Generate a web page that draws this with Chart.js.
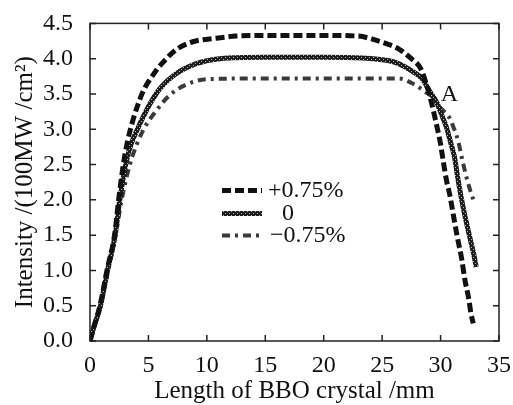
<!DOCTYPE html>
<html>
<head>
<meta charset="utf-8">
<script src="https://cdn.jsdelivr.net/npm/chart.js@4.4.1/dist/chart.umd.min.js"></script>
<style>
    html, body { margin: 0; padding: 0; background: #fff; }
    #wrap { width: 513px; height: 405px; position: relative; }
</style>
</head>
<body>
<div id="wrap"><canvas id="IntensityChart"></canvas></div>
<script>
// data
const plusX = [0, 0.3, 0.85, 1.45, 2.1, 2.45, 2.85, 3.2, 3.66, 4.5, 5.4, 6.2, 7.4, 8.8, 10.8, 12.5, 15, 20, 23, 24.1, 25.6, 26.4, 27.5, 28.3, 28.8, 29.2, 29.7, 30.0, 30.2, 30.5, 30.8, 31.1, 31.4, 31.8, 32.1, 32.4, 32.6, 32.8];
const plusY = [0, 0.18, 0.5, 1.0, 1.5, 2.0, 2.5, 2.82, 3.12, 3.52, 3.77, 3.94, 4.13, 4.24, 4.29, 4.32, 4.33, 4.33, 4.32, 4.28, 4.2, 4.14, 4.0, 3.86, 3.63, 3.39, 3.03, 2.79, 2.58, 2.28, 2.06, 1.78, 1.5, 1.17, 0.85, 0.61, 0.39, 0.25];

const zeroX = [0, 0.3, 0.9, 1.5, 2.15, 2.55, 3.05, 3.5, 4.0, 5.1, 6.0, 7.4, 9.1, 11.1, 15, 20, 23.3, 25.6, 26.4, 27.5, 28.4, 29.1, 29.7, 30.1, 30.5, 30.9, 31.2, 31.5, 31.9, 32.4, 32.8, 33.05];
const zeroY = [0, 0.18, 0.5, 1.0, 1.5, 2.0, 2.5, 2.78, 2.98, 3.35, 3.58, 3.79, 3.93, 4.0, 4.02, 4.02, 4.01, 3.97, 3.93, 3.83, 3.72, 3.53, 3.37, 3.2, 3.03, 2.79, 2.6, 2.28, 1.92, 1.54, 1.26, 1.05];

const minusX = [0, 0.3, 0.9, 1.55, 2.2, 2.65, 3.1, 3.6, 4.5, 5.7, 6.8, 8.2, 10, 15, 20, 25, 26.4, 27.8, 28.7, 29.4, 30.0, 30.7, 31.1, 31.5, 31.8, 32.2, 32.6, 32.9];
const minusY = [0, 0.18, 0.5, 1.0, 1.5, 1.95, 2.3, 2.6, 2.97, 3.27, 3.48, 3.63, 3.71, 3.72, 3.72, 3.72, 3.72, 3.63, 3.53, 3.44, 3.3, 3.18, 3.03, 2.84, 2.61, 2.33, 2.1, 1.96];

const seriesLabels = ["+0.75%", "0", "\u22120.75%"];
const xTicks = [0, 5, 10, 15, 20, 25, 30, 35];
const yTicks = [0, 0.5, 1.0, 1.5, 2.0, 2.5, 3.0, 3.5, 4.0, 4.5];

const serif = "'Liberation Serif', 'DejaVu Serif', serif";

function toPoints(xs, ys) {
    return xs.map((x, i) => ({ x: x, y: ys[i] }));
}

// hatched look for the middle curve
function hatchPattern() {
    const c = document.createElement("canvas");
    c.width = 4;
    c.height = 4;
    const g = c.getContext("2d");
    g.fillStyle = "#1c1c1c";
    g.fillRect(0, 0, 4, 4);
    g.fillStyle = "#b8b8b8";
    g.fillRect(1, 1, 1, 1);
    g.fillRect(3, 3, 1, 1);
    return g.createPattern(c, "repeat");
}

// box around the plot with inward ticks on all four sides, plus legend and label "A"
const framePlugin = {
    id: "frame",
    afterDatasetsDraw(chart) {
        const { ctx, chartArea: a, scales } = chart;
        ctx.save();
        ctx.strokeStyle = "#222";
        ctx.lineWidth = 1.5;
        ctx.strokeRect(a.left, a.top, a.right - a.left, a.bottom - a.top);
        ctx.beginPath();
        xTicks.forEach(v => {
            const px = scales.x.getPixelForValue(v);
            ctx.moveTo(px, a.bottom); ctx.lineTo(px, a.bottom - 6);
            ctx.moveTo(px, a.top); ctx.lineTo(px, a.top + 6);
        });
        yTicks.forEach(v => {
            const py = scales.y.getPixelForValue(v);
            ctx.moveTo(a.left, py); ctx.lineTo(a.left + 6, py);
            ctx.moveTo(a.right, py); ctx.lineTo(a.right - 6, py);
        });
        ctx.stroke();

        // legend
        const lx = a.left + 132;
        const textX = [lx + 46, lx + 60, lx + 48];
        const rowY = [a.top + 167, a.top + 190, a.top + 212];
        chart.data.datasets.forEach((ds, i) => {
            ctx.beginPath();
            ctx.strokeStyle = ds.borderColor;
            ctx.lineWidth = ds.borderWidth;
            ctx.setLineDash(ds.borderDash || []);
            ctx.moveTo(lx, rowY[i]);
            ctx.lineTo(lx + 40, rowY[i]);
            ctx.stroke();
            ctx.setLineDash([]);
            ctx.fillStyle = "#111";
            ctx.font = "24px " + serif;
            ctx.textAlign = "left";
            ctx.textBaseline = "middle";
            ctx.fillText(ds.label, textX[i], rowY[i]);
        });

        // crossing point label
        ctx.fillStyle = "#111";
        ctx.font = "24px " + serif;
        ctx.textAlign = "center";
        ctx.fillText("A", scales.x.getPixelForValue(30.75), scales.y.getPixelForValue(3.49));
        ctx.restore();
    },
};

function IntensityChart() {
    const ctx = document.getElementById("IntensityChart");

    new Chart(ctx, {
        type: "line",
        data: {
            datasets: [
                {
                    label: seriesLabels[0],
                    data: toPoints(plusX, plusY),
                    borderColor: "#111",
                    borderWidth: 5,
                    borderDash: [9, 4],
                    pointRadius: 0,
                    cubicInterpolationMode: "monotone",
                },
                {
                    label: seriesLabels[1],
                    data: toPoints(zeroX, zeroY),
                    borderColor: hatchPattern(),
                    borderWidth: 5,
                    pointRadius: 0,
                    cubicInterpolationMode: "monotone",
                },
                {
                    label: seriesLabels[2],
                    data: toPoints(minusX, minusY),
                    borderColor: "#3a3a3a",
                    borderWidth: 4,
                    borderDash: [8, 5, 3, 5],
                    pointRadius: 0,
                    cubicInterpolationMode: "monotone",
                },
            ],
        },
        options: {
            responsive: true,
            maintainAspectRatio: false,
            animation: false,
            layout: {
                padding: { left: 0, right: 12, top: 17, bottom: 0 },
            },
            scales: {
                x: {
                    type: "linear",
                    min: 0,
                    max: 35,
                    afterFit: (s) => { s.height = 64; },
                    afterBuildTicks: (s) => { s.ticks = xTicks.map(v => ({ value: v })); },
                    ticks: {
                        padding: 2,
                        color: "#111",
                        font: { family: serif, size: 24 },
                        maxRotation: 0,
                        autoSkip: false,
                    },
                    grid: { display: false },
                    border: { display: false },
                    title: {
                        display: true,
                        text: "Length of BBO crystal /mm",
                        color: "#111",
                        font: { family: serif, size: 25, lineHeight: 1 },
                        padding: { top: 0, bottom: 1 },
                    },
                },
                y: {
                    min: 0,
                    max: 4.5,
                    afterFit: (s) => { s.width = 90; },
                    afterBuildTicks: (s) => { s.ticks = yTicks.map(v => ({ value: v })); },
                    ticks: {
                        padding: 9,
                        color: "#111",
                        font: { family: serif, size: 24 },
                        autoSkip: false,
                        callback: (v) => v.toFixed(1),
                    },
                    grid: { display: false },
                    border: { display: false },
                    title: {
                        display: true,
                        text: "Intensity /(100MW /cm\u00b2)",
                        color: "#111",
                        font: { family: serif, size: 25, lineHeight: 1.2 },
                        padding: { top: 10, bottom: 0 },
                    },
                },
            },
            plugins: {
                legend: { display: false },
                tooltip: { enabled: false },
            },
        },
        plugins: [framePlugin],
    });
}

IntensityChart()
</script>
</body>
</html>
